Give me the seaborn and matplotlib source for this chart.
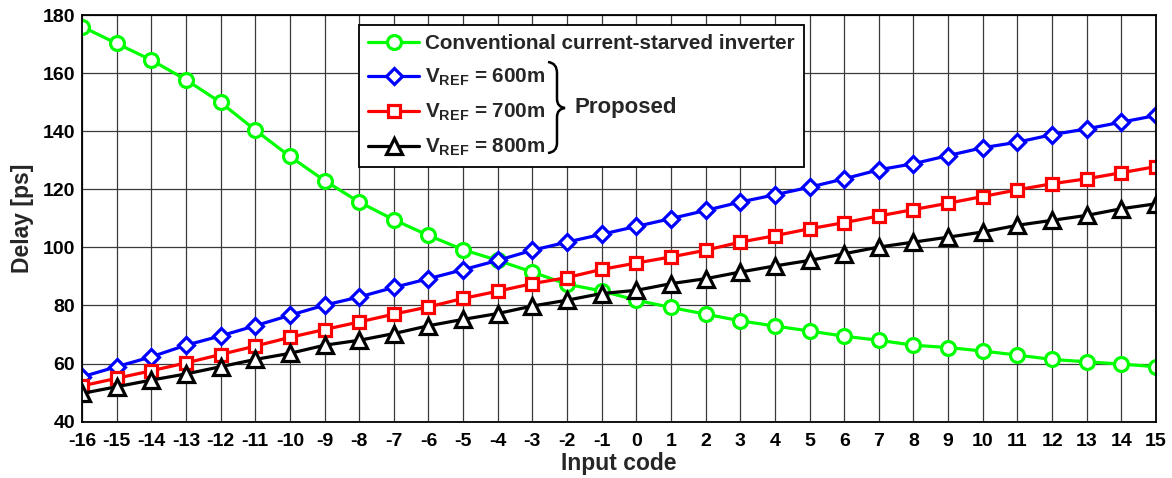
import numpy as np
import pandas as pd
import seaborn as sns
import matplotlib
matplotlib.use("Agg")
import matplotlib.pyplot as plt
from matplotlib.path import Path
from matplotlib.patches import PathPatch

# Input codes and measured delays [ps]
codes = list(range(-16, 16))
conventional = [176.0, 170.2, 164.5, 157.7, 149.9, 140.4, 131.3, 123.0, 115.6, 109.5,
                104.1, 99.2, 95.5, 91.5, 87.3, 85.0, 81.8, 79.3, 77.0, 74.7,
                72.9, 71.2, 69.4, 68.0, 66.3, 65.5, 64.3, 62.9, 61.4, 60.6, 59.8, 58.9]
vref_600 = [55.4, 58.9, 62.3, 66.3, 69.5, 73.0, 76.6, 80.1, 82.9, 86.2,
            89.2, 92.3, 95.5, 99.0, 101.8, 104.5, 107.2, 109.9, 112.7, 115.6,
            118.1, 120.7, 123.6, 126.7, 128.8, 131.6, 134.3, 136.2, 138.8, 140.8, 143.1, 145.4]
vref_700 = [52.3, 54.9, 57.5, 60.2, 63.1, 66.0, 69.0, 71.7, 74.3, 77.0,
            79.5, 82.4, 84.9, 87.5, 89.6, 92.4, 94.6, 96.7, 99.0, 101.8,
            104.0, 106.4, 108.5, 110.8, 113.0, 115.2, 117.5, 119.8, 121.9, 123.6, 125.7, 127.8]
vref_800 = [49.7, 52.0, 54.3, 56.4, 58.9, 61.4, 63.5, 66.3, 68.0, 70.3,
            73.0, 75.2, 77.2, 79.8, 81.8, 84.1, 85.2, 87.5, 89.2, 91.5,
            93.6, 95.5, 97.8, 100.1, 101.8, 103.5, 105.3, 107.6, 109.3, 111.0, 113.3, 115.0]

series_labels = ["Conventional current-starved inverter",
                 r"V$_{\mathregular{REF}}$ = 600m",
                 r"V$_{\mathregular{REF}}$ = 700m",
                 r"V$_{\mathregular{REF}}$ = 800m"]
y_ticks = [40, 60, 80, 100, 120, 140, 160, 180]

sns.set_style("white")
plt.rcParams["font.family"] = ["Liberation Sans", "DejaVu Sans"]
plt.rcParams["font.weight"] = "bold"
plt.rcParams["mathtext.default"] = "regular"
plt.rcParams["axes.unicode_minus"] = False

fig = plt.figure(figsize=(11.72, 4.78), dpi=100)
ax = fig.add_axes([82 / 1172, 1 - 421.6 / 478, (1156 - 82) / 1172, (421.6 - 15) / 478])

styles = [
    (conventional, "#00FF00", "o", 10.0),
    (vref_600, "#0000FF", "D", 8.5),
    (vref_700, "#FF0000", "s", 8.0),
    (vref_800, "#000000", "^", 11.5),
]
for (vals, color, marker, ms), label in zip(styles, series_labels):
    sns.lineplot(x=codes, y=vals, ax=ax, color=color, linewidth=2.3,
                 marker=marker, markersize=ms, markerfacecolor="white",
                 markeredgecolor=color, markeredgewidth=2.3, label=label)

ax.set_xlim(-16, 15)
ax.set_ylim(40, 180)
ax.set_xticks(codes)
ax.set_yticks(y_ticks)
ax.grid(True, color="#3a3a3a", linewidth=0.9)
ax.set_axisbelow(True)
for s in ax.spines.values():
    s.set_color("black")
    s.set_linewidth(1.3)
ax.tick_params(axis="both", direction="in", length=5, width=1, labelsize=14,
               colors="black")
ax.tick_params(axis="x", pad=8)
ax.tick_params(axis="y", pad=5)
for lab in ax.get_xticklabels() + ax.get_yticklabels():
    lab.set_fontweight("bold")
ax.set_xlabel("Input code", fontsize=16.5, fontweight="bold", labelpad=2)
ax.set_ylabel("Delay [ps]", fontsize=16.5, fontweight="bold", labelpad=6)

leg = ax.legend(loc="upper left", bbox_to_anchor=(359 / 1172, 1 - 25 / 478),
                bbox_transform=fig.transFigure, fontsize=14.85, frameon=True,
                fancybox=False, framealpha=1, edgecolor="black",
                handlelength=2.45, handletextpad=0.3, labelspacing=0.66,
                borderpad=0.45, borderaxespad=0)
leg.get_frame().set_linewidth(1.3)
for t in leg.get_texts():
    t.set_fontweight("bold")

# Curly brace grouping the three proposed-design entries
W, H = 1172, 478
def fpt(x, y):
    return (x / W, 1 - y / H)

verts = [fpt(548, 62), fpt(557, 63), fpt(557, 73),
         fpt(557, 99),
         fpt(557, 107), fpt(565, 108),
         fpt(557, 109), fpt(557, 117),
         fpt(557, 143),
         fpt(557, 152), fpt(548, 153)]
codes_path = [Path.MOVETO, Path.CURVE3, Path.CURVE3,
              Path.LINETO,
              Path.CURVE3, Path.CURVE3,
              Path.CURVE3, Path.CURVE3,
              Path.LINETO,
              Path.CURVE3, Path.CURVE3]
brace = PathPatch(Path(verts, codes_path), transform=fig.transFigure,
                  facecolor="none", edgecolor="black", linewidth=1.8)
fig.patches.append(brace)
fig.text(574 / W, 1 - 107 / H, "Proposed", fontsize=16, fontweight="bold",
         va="center", ha="left")

fig.savefig("out.png", dpi=100)
